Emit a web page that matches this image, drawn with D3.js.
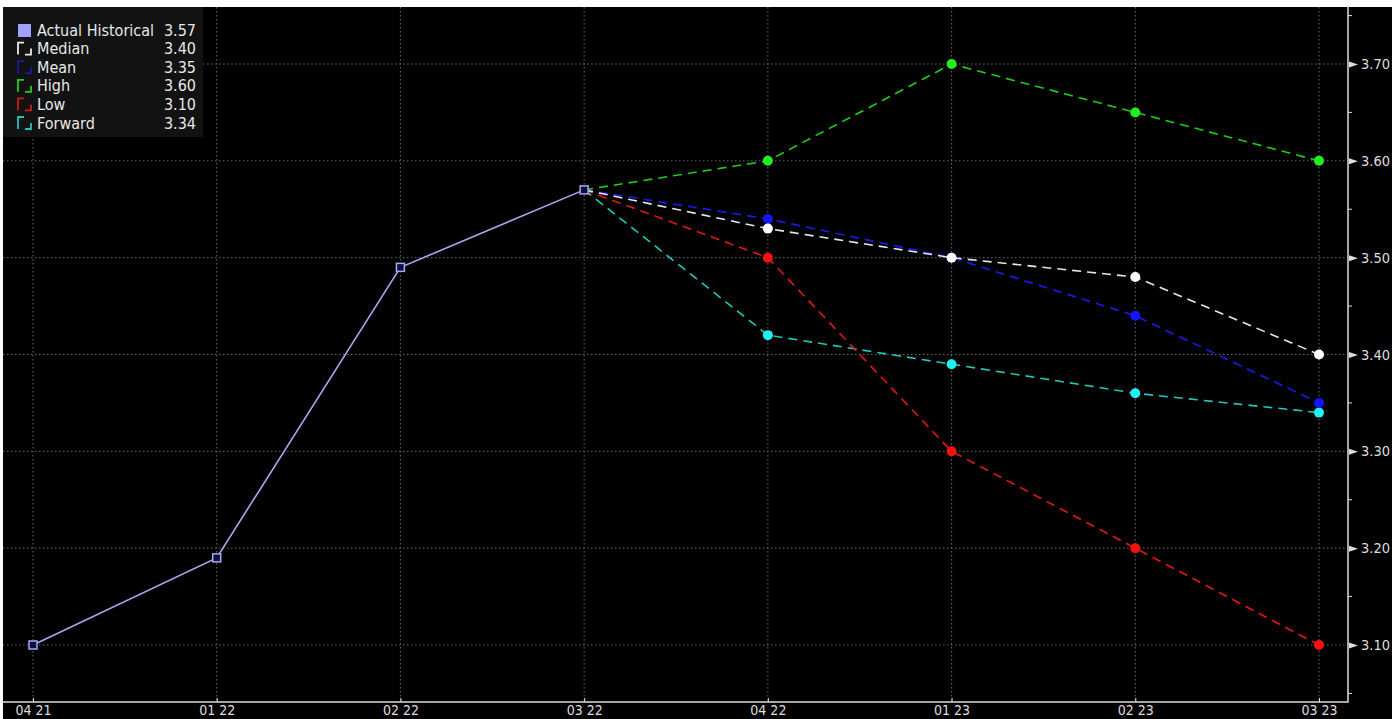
<!DOCTYPE html>
<html>
<head>
<meta charset="utf-8">
<script src="https://cdn.jsdelivr.net/npm/d3@7"></script>
<style>
  body { margin: 0; background: #fff; }
  svg { display: block; }
  text { font-family: "DejaVu Sans Condensed", "DejaVu Sans", sans-serif; }
</style>
</head>
<body>
<div class="svg-target"></div>
<script>
const w = 1400;
const h = 719;

// quarters on the x axis
const quarters = ['04 21', '01 22', '02 22', '03 22', '04 22', '01 23', '02 23', '03 23'];
const yTicks = [3.10, 3.20, 3.30, 3.40, 3.50, 3.60, 3.70];

// series values (forecast series start at 03 22)
const actual = [3.10, 3.19, 3.49, 3.57];
const median = [3.57, 3.53, 3.50, 3.48, 3.40];
const mean = [3.57, 3.54, 3.50, 3.44, 3.35];
const high = [3.57, 3.60, 3.70, 3.65, 3.60];
const low = [3.57, 3.50, 3.30, 3.20, 3.10];
const forward = [3.57, 3.42, 3.39, 3.36, 3.34];

const legendNames = ['Actual Historical', 'Median', 'Mean', 'High', 'Low', 'Forward'];
const legendValues = ['3.57', '3.40', '3.35', '3.60', '3.10', '3.34'];

const frame = { left: 3, top: 7, right: 1392 };
const plot = { left: 3, top: 7, right: 1348, bottom: 702 };

const svg = d3.select('.svg-target')
    .append('svg')
    .attr('width', w)
    .attr('height', h);

svg.append('rect')
    .attr('x', frame.left).attr('y', frame.top)
    .attr('width', frame.right - frame.left).attr('height', h - frame.top)
    .attr('fill', '#000');

const xScale = d3.scalePoint()
    .domain(quarters)
    .range([33, 1319]);

const yScale = d3.scaleLinear()
    .domain([3.10, 3.70])
    .range([645, 64]);

// grid
const grid = svg.append('g');
grid.selectAll('.vgrid')
    .data(quarters)
    .enter()
    .append('line')
        .attr('x1', d => xScale(d)).attr('x2', d => xScale(d))
        .attr('y1', plot.top).attr('y2', plot.bottom)
        .attr('stroke', '#6a6a6a')
        .attr('stroke-width', 1)
        .attr('stroke-dasharray', '1.5,2.5');
grid.selectAll('.hgrid')
    .data(yTicks)
    .enter()
    .append('line')
        .attr('x1', plot.left).attr('x2', plot.right)
        .attr('y1', d => yScale(d)).attr('y2', d => yScale(d))
        .attr('stroke', '#6a6a6a')
        .attr('stroke-width', 1)
        .attr('stroke-dasharray', '1.5,2.5');

// x axis
const xAxis = d3.axisBottom(xScale)
    .tickSize(-4)
    .tickPadding(8);

const gx = svg.append('g')
    .attr('transform', `translate(0, ${plot.bottom})`)
    .call(xAxis);
gx.select('.domain').remove();
gx.selectAll('line').attr('stroke', '#ddd');
gx.selectAll('text')
    .attr('fill', '#ddd')
    .attr('font-size', 14)
    .attr('dy', '0.35em')
    .attr('y', 8);

// y axis on the right
const yAxis = d3.axisRight(yScale)
    .tickValues(yTicks)
    .tickFormat(d3.format('.2f'))
    .tickSize(0)
    .tickPadding(13);

const gy = svg.append('g')
    .attr('transform', `translate(${plot.right}, 0)`)
    .call(yAxis);
gy.select('.domain').remove();
gy.selectAll('text')
    .attr('fill', '#ddd')
    .attr('font-size', 14.5);
gy.selectAll('.tick')
    .append('path')
    .attr('d', 'M1,-3 L10,0 L1,3 Z')
    .attr('fill', '#ddd');

// minor ticks
const minor = d3.range(3.05, 3.76, 0.1);
svg.append('g')
    .selectAll('line')
    .data(minor)
    .enter()
    .append('line')
        .attr('x1', plot.right).attr('x2', plot.right + 4)
        .attr('y1', d => yScale(d)).attr('y2', d => yScale(d))
        .attr('stroke', '#ddd');

// axis lines
svg.append('path')
    .attr('d', `M${plot.left},${plot.bottom} H${plot.right} V${plot.top}`)
    .attr('fill', 'none')
    .attr('stroke', '#ddd')
    .attr('stroke-width', 1.5);

// lines
const line = d3.line()
    .x(d => xScale(d.q))
    .y(d => yScale(d.v));

const toPoints = (vals, start) => vals.map((v, i) => ({ q: quarters[start + i], v: v }));

const forecasts = [
    { vals: forward, color: '#22c8b8', dot: '#22f0f0' },
    { vals: low, color: '#e01818', dot: '#ff1010' },
    { vals: mean, color: '#1a1aee', dot: '#1414ff' },
    { vals: median, color: '#e8e8e8', dot: '#ffffff' },
    { vals: high, color: '#1ecc1e', dot: '#22ee22' }
];

forecasts.forEach(s => {
    const pts = toPoints(s.vals, 3);
    svg.append('path')
        .datum(pts)
        .attr('d', line)
        .attr('fill', 'none')
        .attr('stroke', s.color)
        .attr('stroke-width', 1.6)
        .attr('stroke-dasharray', '9,6');
    svg.selectAll(null)
        .data(pts.slice(1))
        .enter()
        .append('circle')
            .attr('cx', d => xScale(d.q))
            .attr('cy', d => yScale(d.v))
            .attr('r', 5)
            .attr('fill', s.dot);
});

const actualPts = toPoints(actual, 0);
svg.append('path')
    .datum(actualPts)
    .attr('d', line)
    .attr('fill', 'none')
    .attr('stroke', '#a8a8ee')
    .attr('stroke-width', 1.6);
svg.selectAll(null)
    .data(actualPts)
    .enter()
    .append('rect')
        .attr('x', d => xScale(d.q) - 4)
        .attr('y', d => yScale(d.v) - 4)
        .attr('width', 8)
        .attr('height', 8)
        .attr('fill', '#101040')
        .attr('stroke', '#a8a8ee')
        .attr('stroke-width', 1.5);

// legend
const legend = svg.append('g');
legend.append('rect')
    .attr('x', 3).attr('y', 7)
    .attr('width', 200).attr('height', 130)
    .attr('fill', '#121212');

const legendColors = ['#a0a0ff', '#e8e8e8', '#1a1aa0', '#22cc22', '#cc1a1a', '#22c0b0'];
const rowY = i => 30 + i * 18.6;

legendNames.forEach((name, i) => {
    const y = rowY(i);
    if (i === 0) {
        legend.append('rect')
            .attr('x', 18).attr('y', y - 6)
            .attr('width', 13).attr('height', 13)
            .attr('fill', legendColors[i]);
    } else {
        legend.append('path')
            .attr('d', `M18,${y + 6} V${y - 6} H24 M25,${y + 6} H31 V${y}`)
            .attr('fill', 'none')
            .attr('stroke', legendColors[i])
            .attr('stroke-width', 1.8);
    }
    legend.append('text')
        .attr('x', 37).attr('y', y)
        .attr('dy', '0.35em')
        .attr('fill', '#e8e8e8')
        .attr('font-size', 16)
        .text(name);
    legend.append('text')
        .attr('x', 196).attr('y', y)
        .attr('dy', '0.35em')
        .attr('text-anchor', 'end')
        .attr('fill', '#e8e8e8')
        .attr('font-size', 16)
        .text(legendValues[i]);
});
</script>
</body>
</html>
